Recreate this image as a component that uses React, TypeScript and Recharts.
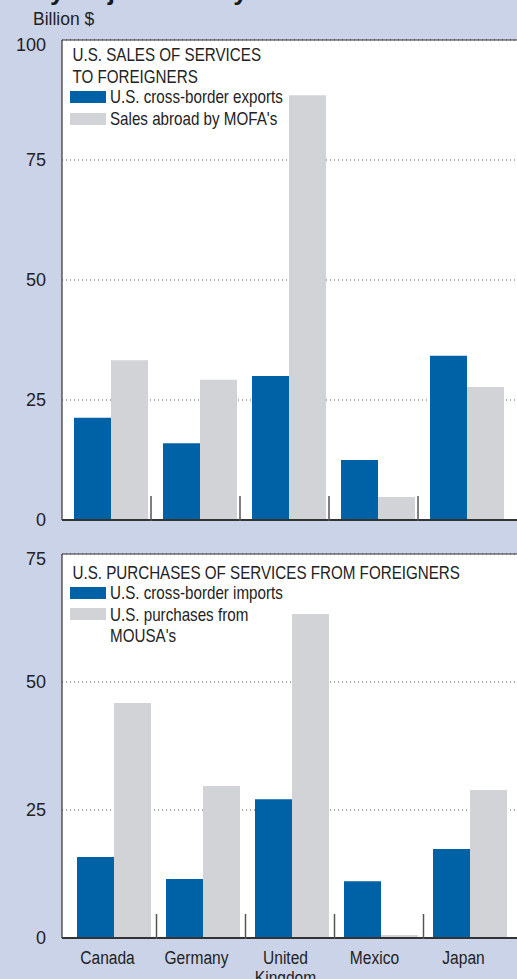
import { BarChart, Bar, XAxis, YAxis, CartesianGrid, ReferenceLine } from 'recharts';

const countries = ['Canada', 'Germany', 'United Kingdom', 'Mexico', 'Japan'];
const crossBorderExports = [21.3, 16.0, 30.0, 12.5, 34.2];
const salesByMofas = [33.3, 29.2, 88.5, 4.8, 27.7];
const crossBorderImports = [15.8, 11.5, 27.1, 11.1, 17.4];
const purchasesFromMousas = [45.9, 29.7, 63.3, 0.6, 28.9];
const salesTicks = [0, 25, 50, 75, 100];
const purchaseTicks = [0, 25, 50, 75];

const BLUE = '#0062a6';
const GRAY = '#d1d3d6';
const BG = '#cad3e8';
const INK = '#222';
const FONT = '"Liberation Sans", Arial, sans-serif';
const SQUEEZE = 0.82;

const salesData = countries.map((name, i) => ({
  name,
  exports: crossBorderExports[i],
  mofa: salesByMofas[i],
}));

const purchaseData = countries.map((name, i) => ({
  name,
  imports: crossBorderImports[i],
  mousa: purchasesFromMousas[i],
}));

const YTick = ({ x, y, payload, top }: any) => (
  <text
    x={x}
    y={y + (payload.value === top ? 5 : 0)}
    dy="0.36em"
    textAnchor="end"
    fill={INK}
    fontSize={18}
    fontFamily={FONT}
  >
    {payload.value}
  </text>
);

const XTick = ({ x, y, index, payload, sepOffset, showLabel }: any) => {
  const lines = String(payload.value).split(' ');
  return (
    <g>
      {index < countries.length - 1 && (
        <line x1={x + sepOffset} x2={x + sepOffset} y1={y - 26} y2={y - 1} stroke="#555" strokeWidth={1.5} />
      )}
      {showLabel &&
        lines.map((l, k) => (
          <text
            key={k}
            transform={`translate(${x - 6},${y + 24 + k * 20}) scale(${SQUEEZE},1)`}
            textAnchor="middle"
            fill={INK}
            fontSize={19}
            fontFamily={FONT}
          >
            {l}
          </text>
        ))}
    </g>
  );
};

// legend drawn as an overlay so it does not push the plot area down
const LegendBox = ({ left, top, title, items, rowHeight }: {
  left: number; top: number; title: string[]; rowHeight: number;
  items: { color: string; text: string[] }[];
}) => (
  <div style={{ position: 'absolute', left, top, fontFamily: FONT, fontSize: 18.5, color: INK, lineHeight: '22px' }}>
    {title.map((t) => (
      <div key={t} style={{ paddingLeft: 3, transform: `scaleX(${SQUEEZE})`, transformOrigin: 'left', whiteSpace: 'nowrap' }}>{t}</div>
    ))}
    <div style={{ marginTop: -2 }}>
      {items.map((it) => (
        <div key={it.text[0]} style={{ position: 'relative', paddingLeft: 0, lineHeight: rowHeight + 'px' }}>
          <span style={{ position: 'absolute', left: 0, top: 4.5, width: 36, height: 12, background: it.color }} />
          {it.text.map((t) => (
            <div key={t} style={{ marginLeft: 40, transform: `scaleX(${SQUEEZE})`, transformOrigin: 'left', whiteSpace: 'nowrap' }}>{t}</div>
          ))}
        </div>
      ))}
    </div>
  </div>
);

export default function App() {
  return (
    <div style={{ position: 'relative', width: 517, height: 979, overflow: 'hidden', background: BG }}>
      <style>{'body{margin:0}'}</style>

      <div style={{ position: 'absolute', left: 0, top: 0 }}>
        <BarChart width={540} height={530} data={salesData} margin={{ top: 40, right: 0, bottom: 0, left: 8 }} barGap={0}>
          <CartesianGrid vertical={false} fill="#fff" stroke="#555" strokeDasharray="1 3" />
          <XAxis
            dataKey="name"
            height={10}
            interval={0}
            tickSize={0}
            tickLine={false}
            padding={{ left: 4, right: 29 }}
            axisLine={{ stroke: '#333', strokeWidth: 2 }}
            tick={(p: any) => <XTick {...p} sepOffset={40.5} showLabel={false} />}
          />
          <YAxis
            domain={[0, 100]}
            ticks={salesTicks}
            width={54}
            tickSize={0}
            tickMargin={16}
            tickLine={false}
            axisLine={{ stroke: '#333', strokeWidth: 1.2 }}
            tick={(p: any) => <YTick {...p} top={100} />}
          />
          <ReferenceLine y={100} stroke="#333" strokeWidth={1.2} />
          <Bar dataKey="exports" fill={BLUE} barSize={37} isAnimationActive={false} />
          <Bar dataKey="mofa" fill={GRAY} barSize={37} isAnimationActive={false} />
        </BarChart>
      </div>

      <div style={{ position: 'absolute', left: 0, top: 530 }}>
        <BarChart width={540} height={449} data={purchaseData} margin={{ top: 24, right: 0, bottom: 0, left: 8 }} barGap={0}>
          <CartesianGrid vertical={false} fill="#fff" stroke="#555" strokeDasharray="1 3" />
          <XAxis
            dataKey="name"
            height={41}
            interval={0}
            tickSize={0}
            tickLine={false}
            padding={{ left: 7, right: 26 }}
            axisLine={{ stroke: '#333', strokeWidth: 2 }}
            tick={(p: any) => <XTick {...p} sepOffset={43} showLabel={true} />}
          />
          <YAxis
            domain={[0, 75]}
            ticks={purchaseTicks}
            width={54}
            tickSize={0}
            tickMargin={16}
            tickLine={false}
            axisLine={{ stroke: '#333', strokeWidth: 1.2 }}
            tick={(p: any) => <YTick {...p} top={75} />}
          />
          <ReferenceLine y={75} stroke="#333" strokeWidth={1.2} />
          <Bar dataKey="imports" fill={BLUE} barSize={37} isAnimationActive={false} />
          <Bar dataKey="mousa" fill={GRAY} barSize={37} isAnimationActive={false} />
        </BarChart>
      </div>

      <svg width={517} height={40} style={{ position: 'absolute', left: 0, top: 0 }}>
        <text x={34} y={0} fontSize={26} fontWeight="bold" fontFamily={FONT} fill="#1a1a1a">
          by Major Country
        </text>
        <text x={33} y={25} fontSize={17.5} fontFamily={FONT} fill={INK}>
          Billion $
        </text>
      </svg>

      <LegendBox
        left={70}
        top={44}
        rowHeight={22}
        title={['U.S. SALES OF SERVICES', 'TO FOREIGNERS']}
        items={[
          { color: BLUE, text: ['U.S. cross-border exports'] },
          { color: GRAY, text: ["Sales abroad by MOFA's"] },
        ]}
      />
      <LegendBox
        left={70}
        top={562}
        rowHeight={21.5}
        title={['U.S. PURCHASES OF SERVICES FROM FOREIGNERS']}
        items={[
          { color: BLUE, text: ['U.S. cross-border imports'] },
          { color: GRAY, text: ['U.S. purchases from', "MOUSA's"] },
        ]}
      />
    </div>
  );
}
